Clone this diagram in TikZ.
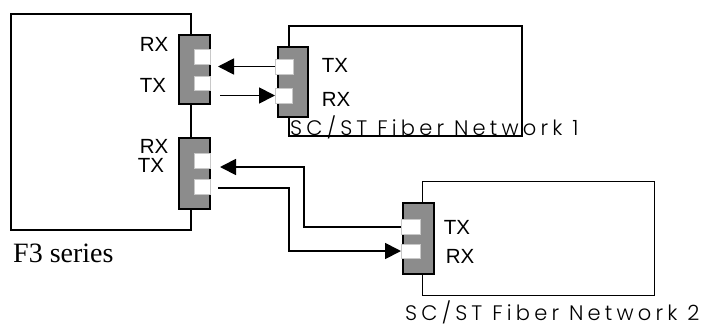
\documentclass[tikz,border=0pt]{standalone}
\usepackage{fontspec}
\setmainfont{Liberation Serif}
\newfontfamily\lblfont{Liberation Sans}
\newfontfamily\netfont[LetterSpace=20]{Poppins Light}
\usetikzlibrary{arrows.meta}
\definecolor{conngray}{HTML}{8C8C8C}
\definecolor{portedge}{HTML}{C8C8C8}
\begin{document}
\begin{tikzpicture}[x=1pt,y=-1pt,
  conn/.style={draw=black,fill=conngray,line width=1.4pt,inner sep=0pt,outer sep=0pt},
  port/.style={fill=white,draw=portedge,line width=0.8pt,inner sep=0pt,outer sep=0pt},
  lbl/.style={font=\lblfont\fontsize{20.5}{20.5}\selectfont,inner sep=0pt},
  nettext/.style={font=\netfont\fontsize{21}{21}\selectfont,inner sep=0pt,anchor=base west},
  wire/.style={line width=1.8pt,-{Triangle[length=16pt,width=16pt]}}]
\useasboundingbox (0,0) rectangle (708,335);
% F3 box
\node[draw,line width=2pt,inner sep=0pt,minimum width=180pt,minimum height=216pt] (f3) at (101,122) {};
\node[conn,minimum width=31pt,minimum height=69pt] (c1) at (194.5,69.5) {};
\node[port,minimum width=16pt,minimum height=15pt] (p1rx) at (202,56.5) {};
\node[port,minimum width=16pt,minimum height=14pt] (p1tx) at (202,83) {};
\node[conn,minimum width=31pt,minimum height=71pt] (c2) at (194.5,173.5) {};
\node[port,minimum width=16pt,minimum height=15pt] (p2rx) at (202.5,160.5) {};
\node[port,minimum width=16pt,minimum height=15pt] (p2tx) at (202.5,186.5) {};
\node[lbl] (l1) at (154,44) {RX};
\node[lbl] (l2) at (153,85) {TX};
\node[lbl] (l3) at (154,146) {RX};
\node[lbl] (l4) at (151,165.5) {TX};
\node[font=\fontsize{28}{28}\selectfont,inner sep=0pt,anchor=base west] (f3t) at (13,262) {F3 series};
% Network 1
\node[draw,line width=1.4pt,inner sep=0pt,minimum width=233pt,minimum height=110pt] (n1) at (405.5,81) {};
\node[conn,minimum width=30pt,minimum height=70pt] (c3) at (293,82) {};
\node[port,minimum width=18pt,minimum height=15pt] (n1tx) at (284,66.5) {};
\node[port,minimum width=17pt,minimum height=15pt] (n1rx) at (283.5,95.5) {};
\node[lbl] (l5) at (335,65) {TX};
\node[lbl] (l6) at (336,99) {RX};
\node[nettext] (n1t) at (290,135) {SC/ST Fiber Network 1};
% Network 2
\node[draw,line width=1pt,inner sep=0pt,minimum width=232pt,minimum height=114pt] (n2) at (538,238) {};
\node[conn,minimum width=31pt,minimum height=71pt] (c4) at (418.5,238.5) {};
\node[port,minimum width=19pt,minimum height=15pt] (n2tx) at (410.5,227) {};
\node[port,minimum width=19pt,minimum height=14pt] (n2rx) at (410.5,251) {};
\node[lbl] (l7) at (457,227) {TX};
\node[lbl] (l8) at (460,256) {RX};
\node[nettext] (n2t) at (405,320) {SC/ST Fiber Network 2};
% wires
\draw[wire,shorten >=8pt] (n1tx.west) -- (n1tx.west -| p1rx.east);
\draw[wire,shorten <=10pt] (n1rx.west -| p1tx.east) -- (n1rx.west);
\coordinate (j1) at (304,167);
\coordinate (e1) at (220,167);
\draw[wire] (n2tx.west) -| (j1) -- (e1);
\coordinate (s2) at (218,188);
\coordinate (j2) at (289,251);
\draw[wire] (s2) -| (j2) -- (n2rx.west);
\end{tikzpicture}
\end{document}
